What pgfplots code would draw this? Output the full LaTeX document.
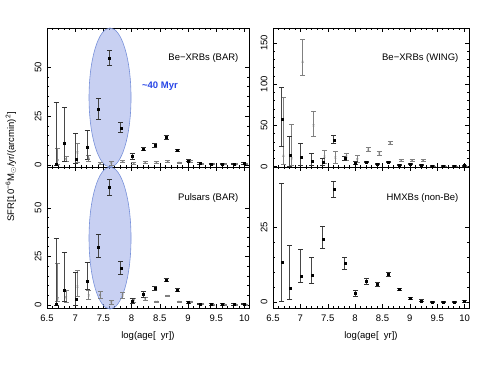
\documentclass[border=0pt]{standalone}
\usepackage{fontspec}
\setmainfont{Liberation Sans}
\usepackage{pgfplots}
\usepackage{pgfplotstable}
\pgfplotsset{compat=1.18}

\definecolor{ellfill}{RGB}{150,165,230}
\definecolor{elldraw}{RGB}{120,145,218}
\definecolor{annblue}{RGB}{40,70,230}

% columns: x, y, error plus, error minus
\pgfplotstableread{
x y ep em
6.66 0.5 31.5 0.5
6.81 11.4 18 9.7
7.01 3 13 2
7.21 9 8.5 6
7.41 28.4 5.8 4.9
7.61 54.7 4 4
7.81 19 2.8 2.6
8.01 4.6 1.5 1.5
8.21 8.2 1 1
8.41 9.9 1 1
8.61 14.1 0.8 0.8
8.81 7.5 0.7 0.7
9.01 2.2 0.5 0.5
9.21 0.8 0.4 0.4
9.41 0.4 0.3 0.3
9.61 0.4 0.3 0.3
9.81 0.4 0.3 0.3
9.99 0.7 0.4 0.4
}\BeBARk
\pgfplotstableread{
x y ep em
6.69 2.5 6 2
6.84 3 1.3 1.3
7.04 6.5 4.5 5
7.24 3.2 1.5 1.5
7.44 1.0 0.6 0.6
7.64 1.0 1 1
7.84 2.0 0.5 0.5
8.04 0.8 0.4 0.4
8.24 1.3 0.4 0.4
8.44 1.3 0.4 0.4
8.64 2.0 0.4 0.4
8.84 1.2 0.4 0.4
9.04 2.0 0.4 0.4
9.24 0.5 0.3 0.3
9.44 0.4 0.3 0.3
9.64 0.4 0.3 0.3
9.84 0.4 0.3 0.3
10.02 0.5 0.3 0.3
}\BeBARg
\pgfplotstableread{
x y ep em
6.66 58 38 34
6.81 14 22 14
7.01 11 17 10
7.21 7 9 6
7.41 5.5 4 4
7.61 32.5 5 5
7.81 9.8 2.6 2.6
8.01 4.4 1.5 1.5
8.21 5.6 1 1
8.41 3.4 1 1
8.61 5.6 1 1
8.81 1.5 0.7 0.7
9.01 3.4 0.7 0.7
9.21 2.2 0.6 0.6
9.41 0.8 0.5 0.5
9.61 0.8 0.5 0.5
9.81 0.8 0.5 0.5
9.99 1.2 0.6 0.6
}\BeWINGk
\pgfplotstableread{
x y ep em
6.69 13 71 10
6.84 10 41 8
7.04 127 27 17
7.24 50 17 13
7.44 12 8 8
7.64 11 7.5 7
7.84 12 4.5 4.5
8.04 9 4 4
8.24 20.5 2.5 2.5
8.44 16 2 2
8.64 29 2 2
8.84 7.3 1.5 1.5
9.04 7.3 1.5 1.5
9.24 7.3 1.5 1.5
9.44 0.3 0.3 0.3
9.64 0.3 0.3 0.3
9.84 0.3 0.3 0.3
10.02 0.3 0.3 0.3
}\BeWINGg
\pgfplotstableread{
x y ep em
6.66 0.3 34 0.3
6.81 7.4 19.6 5.7
7.01 3 14 3
7.21 12.4 9.4 4.2
7.41 30 6.4 5.5
7.61 60.5 4.3 4.3
7.81 19 3.2 3.2
8.01 2 1.2 1.2
8.21 5.5 1.5 1.5
8.41 8.6 1.2 1.2
8.61 12.9 0.8 0.8
8.81 7.7 0.6 0.6
9.01 1.5 0.5 0.5
9.21 0.6 0.4 0.4
9.41 0.3 0.3 0.3
9.61 0.3 0.3 0.3
9.81 0.3 0.3 0.3
9.99 0.5 0.3 0.3
}\PsrBARk
\pgfplotstableread{
x y ep em
6.69 3.5 18 1.8
6.84 4 3.5 2.5
7.04 9.5 8.5 5
7.24 5 2.5 2
7.44 5.2 2 1.8
7.64 1.4 1 1
7.84 5 1.6 1.6
8.04 2.5 1 1
8.24 3.4 0.8 0.8
8.44 1.7 0.4 0.4
8.64 4.7 0.4 0.4
8.84 1.7 0.4 0.4
9.04 1.7 0.4 0.4
9.24 0.4 0.3 0.3
9.44 0.3 0.3 0.3
9.64 0.3 0.3 0.3
9.84 0.3 0.3 0.3
10.02 0.3 0.3 0.3
}\PsrBARg
\pgfplotstableread{
x y ep em
6.66 13.2 26.5 13.1
6.81 4.5 14.5 3.8
7.01 8.5 9.3 2
7.21 9 5.8 2.7
7.41 21 4.2 3
7.61 37.7 2.7 2.7
7.81 13 2 2
8.01 3 1 1
8.21 6.9 1 1
8.41 5.9 0.8 0.8
8.61 9.3 0.6 0.6
8.81 4.3 0.4 0.4
9.01 1.3 0.3 0.3
9.21 0.4 0.3 0.3
9.41 0 0.2 0.2
9.61 0 0.2 0.2
9.81 0.1 0.2 0.2
9.99 0.3 0.3 0.3
}\HMXB

\pgfplotsset{
  panel/.style={
    scale only axis, anchor=south west,
    xmin=6.5, xmax=10.08,
    xtick={6.5,7,...,10}, minor x tick num=4,
    minor y tick num=4,
    tick align=inside,
    major tick length=4pt, minor tick length=2pt,
    every tick/.style={black, line width=0.5pt},
    axis line style={line width=0.6pt},
    tick label style={font=\fontsize{9.5}{11}\selectfont},
    /pgf/number format/assume math mode=true,
    yticklabel style={rotate=90, anchor=south},
    yticklabel shift=2pt,
    xticklabel shift=3pt,
    label style={font=\fontsize{9.5}{11}\selectfont},
    xlabel style={yshift=-3pt},
    clip=false,
  },
  blk/.style={only marks, mark=square*, mark size=1pt, black,
    error bars/.cd, y dir=both, y explicit,
    error bar style={line width=1pt, black!72},
    error mark options={rotate=90, line width=0.9pt, mark size=2.5pt, black!80}},
  gry/.style={only marks, mark=x, mark size=1.3pt, black!50,
    error bars/.cd, y dir=both, y explicit,
    error bar style={line width=0.9pt, black!50},
    error mark options={rotate=90, line width=0.8pt, mark size=2.5pt, black!50}},
}
\tikzset{
  lbl/.style={anchor=east, font=\fontsize{9.5}{11}\selectfont},
  ell/.style={draw=elldraw, line width=0.6pt, fill=ellfill, fill opacity=0.52},
}

\begin{document}
\begin{tikzpicture}
\path[use as bounding box] (0pt,0pt) rectangle (485pt,374pt);

% top left
\begin{axis}[panel, at={(47pt,207pt)}, width=202pt, height=139pt,
  ymin=-1, ymax=70, ytick={0,25,50}, xticklabels={}]
  \draw[ell] (rel axis cs:0.312,0.5) ellipse [x radius=21pt, y radius=69.5pt];
  \addplot[gry] table[x=x, y=y, y error plus=ep, y error minus=em]{\BeBARg};
  \addplot[blk] table[x=x, y=y, y error plus=ep, y error minus=em]{\BeBARk};
  \node[lbl] at (rel axis cs:0.965,0.784) {Be−XRBs (BAR)};
  \node[font=\fontsize{9.5}{11}\selectfont\bfseries, text=annblue]
    at (rel axis cs:0.559,0.583) {\textasciitilde 40 Myr};
\end{axis}

% top right
\begin{axis}[panel, at={(273pt,207pt)}, width=196pt, height=139pt,
  ymin=-0.5, ymax=168, ytick={0,50,100,150}, xticklabels={}]
  \addplot[gry] table[x=x, y=y, y error plus=ep, y error minus=em]{\BeWINGg};
  \addplot[blk] table[x=x, y=y, y error plus=ep, y error minus=em]{\BeWINGk};
  \node[lbl] at (rel axis cs:0.964,0.784) {Be−XRBs (WING)};
\end{axis}

% bottom left
\begin{axis}[panel, at={(47pt,66pt)}, width=202pt, height=141pt,
  ymin=-1.5, ymax=71, ytick={0,25,50},
  xlabel={log(age[\ \ yr])}]
  \draw[ell] (rel axis cs:0.312,0.496) ellipse [x radius=21pt, y radius=71pt];
  \addplot[gry] table[x=x, y=y, y error plus=ep, y error minus=em]{\PsrBARg};
  \addplot[blk] table[x=x, y=y, y error plus=ep, y error minus=em]{\PsrBARk};
  \node[lbl] at (rel axis cs:0.965,0.78) {Pulsars (BAR)};
\end{axis}

% bottom right
\begin{axis}[panel, at={(273pt,66pt)}, width=196pt, height=141pt,
  ymin=-2, ymax=45.3, ytick={0,25},
  xlabel={log(age[\ \ yr])}]
  \addplot[blk] table[x=x, y=y, y error plus=ep, y error minus=em]{\HMXB};
  \node[lbl] at (rel axis cs:0.964,0.78) {HMXBs (non-Be)};
\end{axis}

\node[rotate=90, font=\fontsize{9.5}{11}\selectfont] at (11pt,207pt)
  {SFR[10\textsuperscript{−6}M\textsubscript{$\odot$}/yr/(arcmin)\textsuperscript{2}]};
\end{tikzpicture}
\end{document}
